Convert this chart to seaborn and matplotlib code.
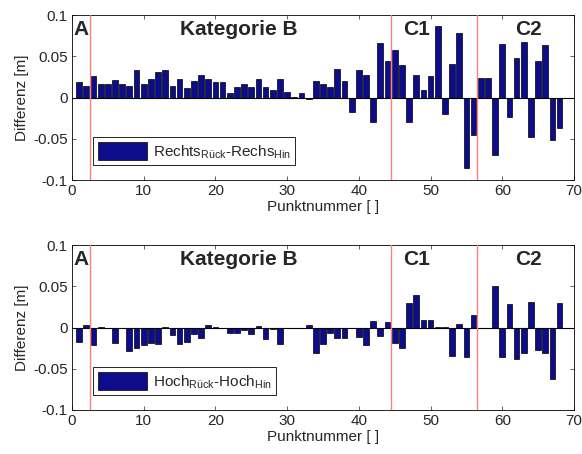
import numpy as np
import pandas as pd
import matplotlib
matplotlib.use("Agg")
import matplotlib.pyplot as plt
import seaborn as sns
from matplotlib.patches import Patch

punkt = list(range(1, 69))

rechts = [0.019, 0.014, 0.026, 0.017, 0.016, 0.021, 0.016, 0.014, 0.034, 0.017,
          0.023, 0.031, 0.033, 0.014, 0.022, 0.012, 0.020, 0.027, 0.023, 0.019,
          0.019, 0.006, 0.013, 0.017, 0.013, 0.022, 0.013, 0.009, 0.023, 0.007,
          0.001, 0.005, -0.002, 0.020, 0.016, 0.013, 0.035, 0.020, -0.017, 0.033,
          0.028, -0.029, 0.066, 0.044, 0.058, 0.039, -0.029, 0.028, 0.009, 0.026,
          0.087, -0.020, 0.041, 0.079, -0.085, -0.045, 0.024, 0.024, -0.070, 0.065,
          -0.024, 0.048, 0.067, -0.048, 0.045, 0.064, -0.052, -0.037]

hoch = [-0.018, 0.003, -0.021, 0.001, -0.001, -0.019, -0.001, -0.028, -0.025, -0.021,
        -0.019, -0.020, 0.001, -0.009, -0.020, -0.017, -0.008, -0.013, 0.003, 0.001,
        0.000, -0.007, -0.006, -0.003, -0.008, 0.002, -0.014, -0.002, -0.020, -0.001,
        0.000, -0.001, 0.003, -0.031, -0.020, -0.006, -0.013, -0.013, -0.001, -0.012,
        -0.021, 0.008, -0.010, 0.007, -0.019, -0.025, 0.030, 0.039, 0.009, 0.009,
        0.001, 0.001, -0.035, 0.004, -0.036, 0.015, 0.000, -0.001, 0.051, -0.036,
        0.029, -0.038, -0.031, 0.031, -0.027, -0.031, -0.062, 0.030]

grenzen = [2.5, 44.5, 56.5]
kategorien = ["A", "Kategorie B", "C1", "C2"]
kat_x = [0.2, 23.3, 48.0, 63.7]
kat_ha = ["left", "center", "center", "center"]

yticks = [-0.1, -0.05, 0, 0.05, 0.1]
yticklabels = ["-0.1", "-0.05", "0", "0.05", "0.1"]
xticks = [0, 10, 20, 30, 40, 50, 60, 70]

legend_labels = [r"Rechts$_{\mathregular{Rück}}$-Rechs$_{\mathregular{Hin}}$",
                 r"Hoch$_{\mathregular{Rück}}$-Hoch$_{\mathregular{Hin}}$"]

sns.set_style("white")
plt.rcParams["font.family"] = ["Liberation Sans", "DejaVu Sans"]
plt.rcParams["mathtext.fontset"] = "custom"
plt.rcParams["mathtext.rm"] = "Liberation Sans"

bar_color = "#0c0c8c"

fig = plt.figure(figsize=(5.82, 4.54), dpi=100)
fig.patch.set_facecolor("white")
ax1 = fig.add_axes([0.1237, 0.6035, 0.8625, 0.363])
ax2 = fig.add_axes([0.1237, 0.097, 0.8625, 0.363])

for ax, vals, lab in [(ax1, rechts, legend_labels[0]), (ax2, hoch, legend_labels[1])]:
    df = pd.DataFrame({"Punkt": punkt, "Diff": vals})
    sns.barplot(data=df, x="Punkt", y="Diff", native_scale=True, color=bar_color,
                saturation=1, edgecolor="black", linewidth=0.5, width=0.8,
                errorbar=None, ax=ax)
    ax.axhline(0, color="black", linewidth=0.8, zorder=3)
    for g in grenzen:
        ax.axvline(g, color="#ff7f7f", linewidth=1.0, zorder=4)
    for t, xx, ha in zip(kategorien, kat_x, kat_ha):
        ax.text(xx, 0.083, t, ha=ha, va="center", fontsize=15, fontweight="bold")
    ax.set_xlim(0, 70)
    ax.set_ylim(-0.1, 0.1)
    ax.set_xticks(xticks)
    ax.set_xticklabels([str(v) for v in xticks], fontsize=11)
    ax.set_yticks(yticks)
    ax.set_yticklabels(yticklabels, fontsize=11)
    ax.tick_params(direction="in", length=3, width=0.5, top=True, right=True,
                   bottom=True, left=True, pad=3)
    for s in ax.spines.values():
        s.set_color("black")
        s.set_linewidth(0.6)
    ax.set_xlabel("Punktnummer [ ]", fontsize=11, labelpad=1)
    ax.set_ylabel("Differenz [m]", fontsize=11, labelpad=3)
    handle = Patch(facecolor=bar_color, edgecolor="black", linewidth=0.5)
    leg = ax.legend([handle], [lab], loc="lower left", bbox_to_anchor=(0.042, 0.09),
                    borderaxespad=0, fontsize=11, handlelength=3.2, handleheight=1.4,
                    handletextpad=0.4, fancybox=False, framealpha=1,
                    edgecolor="black", borderpad=0.3)
    leg.get_frame().set_linewidth(0.6)

fig.savefig("out.png", dpi=100, facecolor="white")
